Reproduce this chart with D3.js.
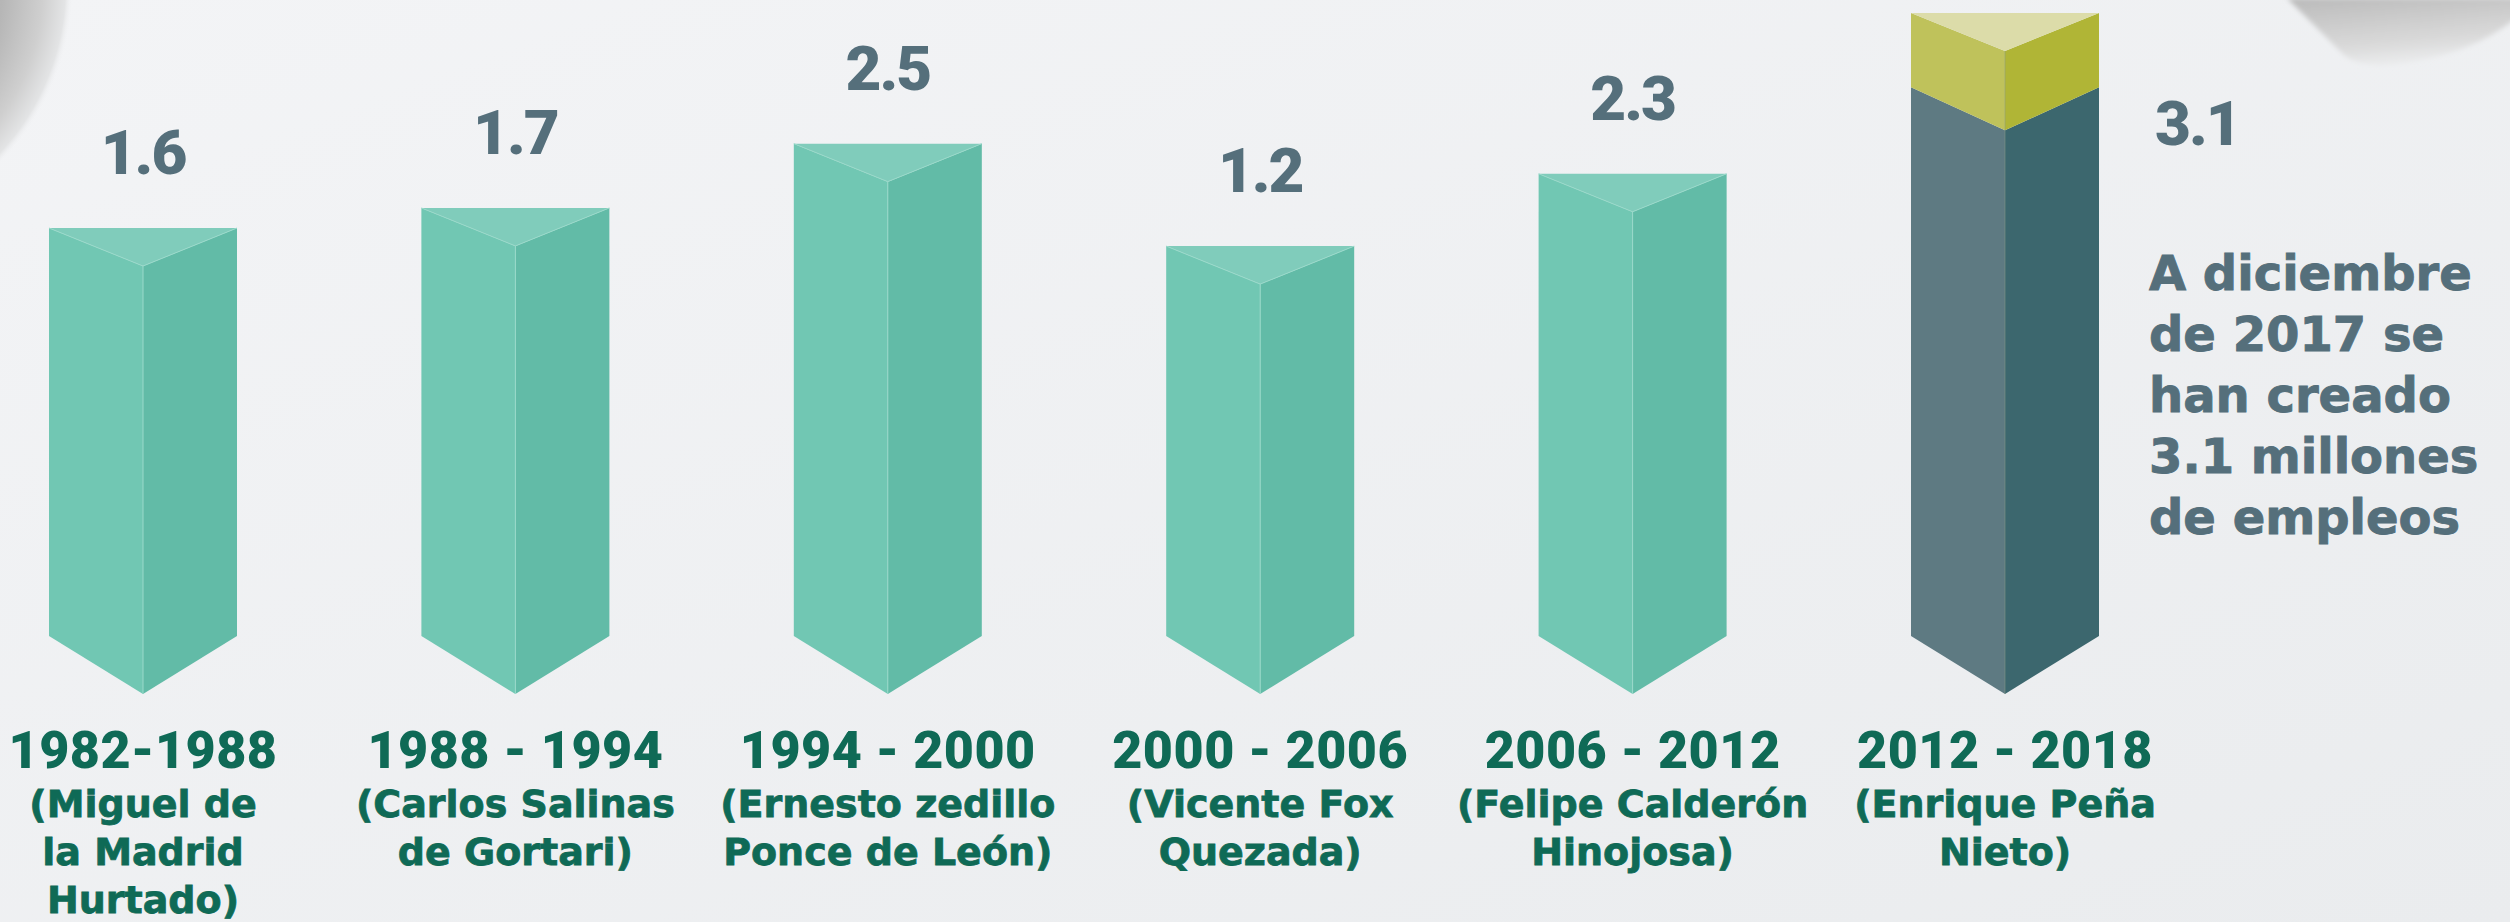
<!DOCTYPE html>
<html>
<head>
<meta charset="utf-8">
<script src="https://cdn.jsdelivr.net/npm/d3@7"></script>
<style>
  html, body { margin: 0; padding: 0; background: #f0f1f3; }
  svg { display: block; }
</style>
</head>
<body>
<svg id="chart" width="2510" height="922"></svg>
<script>
// ---------------- DATA ----------------
const periods = ["1982-1988", "1988 - 1994", "1994 - 2000", "2000 - 2006", "2006 - 2012", "2012 - 2018"];
const presidents = [
  ["(Miguel de", "la Madrid", "Hurtado)"],
  ["(Carlos Salinas", "de Gortari)"],
  ["(Ernesto zedillo", "Ponce de León)"],
  ["(Vicente Fox", "Quezada)"],
  ["(Felipe Calderón", "Hinojosa)"],
  ["(Enrique Peña", "Nieto)"]
];
// millions of formal jobs created per term (labels on the chart)
const jobsMillions = [1.6, 1.7, 2.5, 1.2, 2.3, 3.1];
const valueLabels = ["1.6", "1.7", "2.5", "1.2", "2.3", "3.1"];
// the infographic does not draw bars proportionally: bar heights as drawn, in the same units
const drawnHeight = [2.03, 2.13, 2.45, 1.94, 2.30, 3.10];
// last bar is split in two segments (dark lower part, yellow upper part), in drawn units
const lastBarSplit = [2.73, 3.10];
const noteLines = ["A diciembre", "de 2017 se", "han creado", "3.1 millones", "de empleos"];

// ---------------- LAYOUT ----------------
const W = 2510, H = 922;
const svg = d3.select("#chart");
const defs = svg.append("defs");

const x = d3.scalePoint().domain(periods).range([143, 2005]);
const y = d3.scaleLinear().domain([0, 3.1]).range([636, 13]);
const barW = 188, topDepth = 38, bottomDepth = 58, splitDepth = 43;

// background
const bg = defs.append("linearGradient").attr("id", "bg")
  .attr("x1", "0").attr("y1", "0").attr("x2", "1").attr("y2", "1");
bg.append("stop").attr("offset", "0").attr("stop-color", "#f3f4f6");
bg.append("stop").attr("offset", "1").attr("stop-color", "#eaecee");
svg.append("rect").attr("width", W).attr("height", H).attr("fill", "url(#bg)");

// top-left shadow circle
const rg = defs.append("radialGradient").attr("id", "tlShade")
  .attr("gradientUnits", "userSpaceOnUse").attr("cx", -179).attr("cy", -14).attr("r", 252);
rg.append("stop").attr("offset", "0").attr("stop-color", "#a8a8a8");
rg.append("stop").attr("offset", "0.72").attr("stop-color", "#b6b6b6");
rg.append("stop").attr("offset", "0.88").attr("stop-color", "#cfcfcf");
rg.append("stop").attr("offset", "0.97").attr("stop-color", "#e3e4e5");
rg.append("stop").attr("offset", "1").attr("stop-color", "#f1f2f4").attr("stop-opacity", 0);
svg.append("circle").attr("cx", -179).attr("cy", -14).attr("r", 252).attr("fill", "url(#tlShade)");

// top-right shadow shape
const trg = defs.append("linearGradient").attr("id", "trShade")
  .attr("x1", "0").attr("y1", "0").attr("x2", "0.3").attr("y2", "1");
trg.append("stop").attr("offset", "0").attr("stop-color", "#bababa");
trg.append("stop").attr("offset", "0.75").attr("stop-color", "#dadada");
trg.append("stop").attr("offset", "1").attr("stop-color", "#e9eaeb");
defs.append("filter").attr("id", "soft").append("feGaussianBlur").attr("stdDeviation", 2.5);
svg.append("path")
  .attr("d", "M2287,-2 L2344,55 Q2360,68 2395,64 Q2470,56 2516,18 L2516,-2 Z")
  .attr("fill", "url(#trShade)").attr("filter", "url(#soft)");

// ---------------- BARS ----------------
function faces(xc, yTop, yBot, dTop, dBot) {
  const x0 = xc - barW / 2, x1 = xc + barW / 2;
  return {
    left: [[x0, yTop], [xc, yTop + dTop], [xc, yBot + dBot], [x0, yBot]],
    right: [[xc, yTop + dTop], [x1, yTop], [x1, yBot], [xc, yBot + dBot]],
    top: [[x0, yTop], [x1, yTop], [xc, yTop + dTop]]
  };
}
const poly = pts => "M" + pts.map(p => p.join(",")).join("L") + "Z";

const teal = { left: "#71c7b3", right: "#62bba7", top: "#80ccbb", edge: "#9ad9ca" };
const bars = svg.append("g");

periods.forEach((p, i) => {
  const xc = x(p);
  if (i < periods.length - 1) {
    const f = faces(xc, y(drawnHeight[i]), y(0), topDepth, bottomDepth);
    bars.append("path").attr("d", poly(f.left)).attr("fill", teal.left);
    bars.append("path").attr("d", poly(f.right)).attr("fill", teal.right);
    bars.append("path").attr("d", poly(f.top)).attr("fill", teal.top);
    bars.append("path")
      .attr("d", `M${f.top[0]}L${f.top[2]}L${f.top[1]}M${f.top[2]}L${f.left[2]}`)
      .attr("fill", "none").attr("stroke", teal.edge).attr("stroke-width", 1);
  } else {
    // lower dark segment
    const fd = faces(xc, y(lastBarSplit[0]), y(0), splitDepth, bottomDepth);
    bars.append("path").attr("d", poly(fd.left)).attr("fill", "#5e7a82");
    bars.append("path").attr("d", poly(fd.right)).attr("fill", "#3c676e");
    // upper yellow segment
    const yt = y(lastBarSplit[1]), yb = y(lastBarSplit[0]);
    const x0 = xc - barW / 2, x1 = xc + barW / 2;
    bars.append("path").attr("d", poly([[x0, yt], [xc, yt + topDepth], [xc, yb + splitDepth], [x0, yb]])).attr("fill", "#bfc25b");
    bars.append("path").attr("d", poly([[xc, yt + topDepth], [x1, yt], [x1, yb], [xc, yb + splitDepth]])).attr("fill", "#b0b536");
    bars.append("path").attr("d", poly([[x0, yt], [x1, yt], [xc, yt + topDepth]])).attr("fill", "#dcdca9");
    bars.append("path").attr("d", `M${xc},${yt + topDepth}L${xc},${y(0) + bottomDepth}`)
      .attr("stroke", "#8a9c8a").attr("stroke-opacity", 0.5).attr("stroke-width", 1);
  }
});

// ---------------- VALUE LABELS ----------------
const valueFont = "Roboto, 'DejaVu Sans', sans-serif";
svg.append("g").selectAll("text")
  .data(periods.slice(0, 5))
  .join("text")
  .attr("x", d => x(d))
  .attr("y", (d, i) => y(drawnHeight[i]) - 54)
  .attr("text-anchor", "middle")
  .attr("font-family", valueFont).attr("font-weight", 900)
  .attr("font-size", 62).attr("letter-spacing", -2)
  .attr("fill", "#556f7b")
  .text((d, i) => valueLabels[i]);

const xLast = x(periods[5]);
svg.append("text")
  .attr("x", xLast + barW / 2 + 56)
  .attr("y", 145)
  .attr("font-family", valueFont).attr("font-weight", 900)
  .attr("font-size", 62).attr("letter-spacing", -2)
  .attr("fill", "#556f7b")
  .text(valueLabels[5]);

// note
svg.append("g").selectAll("text")
  .data(noteLines)
  .join("text")
  .attr("x", xLast + barW / 2 + 50)
  .attr("y", (d, i) => 290 + i * 61)
  .attr("font-family", "'DejaVu Sans', sans-serif").attr("font-weight", 700)
  .attr("font-size", 48)
  .attr("fill", "#556f7b").attr("stroke", "#556f7b").attr("stroke-width", 0.9)
  .text(d => d);

// ---------------- CATEGORY LABELS ----------------
const catG = svg.append("g");
periods.forEach((p, i) => {
  catG.append("text")
    .attr("x", x(p)).attr("y", 768)
    .attr("text-anchor", "middle")
    .attr("font-family", valueFont).attr("font-weight", 900)
    .attr("font-size", 52).attr("letter-spacing", 0.5)
    .attr("fill", "#0f6a56")
    .text(p);
  presidents[i].forEach((line, j) => {
    catG.append("text")
      .attr("x", x(p)).attr("y", 817 + j * 48)
      .attr("text-anchor", "middle")
      .attr("font-family", "'DejaVu Sans', sans-serif").attr("font-weight", 700)
      .attr("font-size", 38)
      .attr("fill", "#0f6a56").attr("stroke", "#0f6a56").attr("stroke-width", 0.8)
      .text(line);
  });
});
</script>
</body>
</html>
